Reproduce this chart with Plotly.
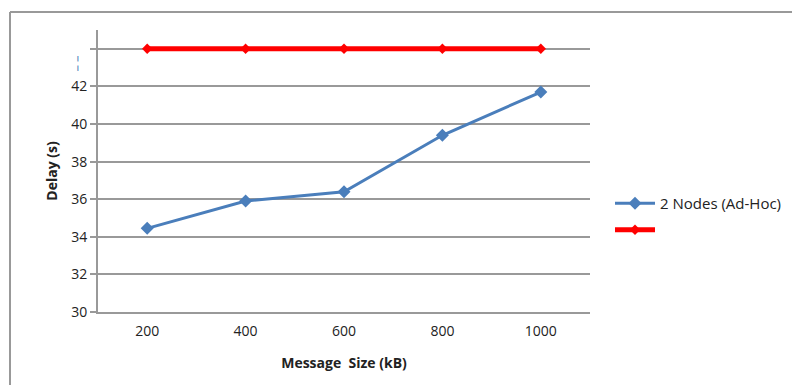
import plotly.graph_objects as go

categories = ["200", "400", "600", "800", "1000"]
adhoc_delay = [34.45, 35.9, 36.4, 39.4, 41.7]
red_delay = [44.0, 44.0, 44.0, 44.0, 44.0]
y_tickvals = [30, 32, 34, 36, 38, 40, 42, 44]
y_ticktext = ["30", "32", "34", "36", "38", "40", "42", ""]

# page offset of 8px (body margin) is accounted for
W, H = 792, 377
L, T = 90, 22
R = W - 582
B = H - 304
pw = W - L - R
ph = H - T - B

fig = go.Figure()
fig.add_trace(go.Scatter(
    x=categories, y=adhoc_delay, mode="lines+markers", name="2 Nodes (Ad-Hoc)",
    legendgroup="a",
    line=dict(color="#4a7ebb", width=3),
    marker=dict(symbol="diamond", size=10, color="#4a7ebb"),
))
fig.add_trace(go.Scatter(
    x=categories, y=red_delay, mode="lines+markers", name=" ",
    legendgroup="b",
    line=dict(color="#ff0000", width=5),
    marker=dict(symbol="diamond", size=8, color="#ff0000"),
))

font = "'Open Sans', Arial, sans-serif"
fig.update_layout(
    width=W, height=H,
    margin=dict(l=L, r=R, t=T, b=B, autoexpand=False),
    paper_bgcolor="white", plot_bgcolor="white",
    font=dict(family=font, size=14, color="#222"),
    showlegend=True,
    legend=dict(x=(602 - L) / pw, y=1 - (179 - T) / ph, xanchor="left", yanchor="top",
                font=dict(size=15, color="#222"), bgcolor="rgba(0,0,0,0)",
                tracegroupgap=4, itemwidth=40),
    xaxis=dict(
        type="category", range=[-0.5, 4.5], showgrid=False,
        showline=True, linecolor="#999", linewidth=2, ticks="",
        tickfont=dict(size=14), ticklabelstandoff=5,
        title=dict(text="<b>Message  Size (kB)</b>", font=dict(size=14), standoff=19),
    ),
    yaxis=dict(
        range=[30, 45], tickvals=y_tickvals, ticktext=y_ticktext,
        showgrid=True, gridcolor="#999", gridwidth=2,
        showline=True, linecolor="#999", linewidth=2,
        ticks="outside", ticklen=6, tickcolor="#999", tickwidth=2,
        tickfont=dict(size=14), zeroline=False,
        title=dict(text="<b>Delay (s)</b>", font=dict(size=14), standoff=10),
    ),
    shapes=[
        dict(type="line", xref="paper", yref="paper",
             x0=(2 - L) / pw, x1=(W - L) / pw, y0=1 + (T - 4) / ph, y1=1 + (T - 4) / ph,
             line=dict(color="#999", width=2)),
        dict(type="line", xref="paper", yref="paper",
             x0=(2 - L) / pw, x1=(2 - L) / pw, y0=1 + (T - 4) / ph, y1=-(B) / ph,
             line=dict(color="#999", width=2)),
    ],
    annotations=[
        dict(text="¦", xref="paper", yref="y", x=(64 - L) / pw, y=43.3,
             showarrow=False, font=dict(size=14, color="#4a7ebb")),
    ],
)

fig.write_html("out.html")
